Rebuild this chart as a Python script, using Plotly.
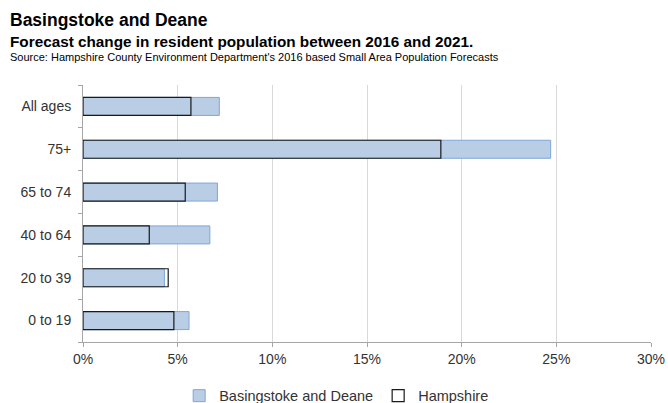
import plotly.graph_objects as go

# Age bands, top to bottom
age_groups = ["All ages", "75+", "65 to 74", "40 to 64", "20 to 39", "0 to 19"]

# Forecast % change in resident population, 2016 to 2021
basingstoke = [7.2, 24.7, 7.1, 6.7, 4.3, 5.6]
hampshire = [5.7, 18.9, 5.4, 3.5, 4.5, 4.8]

x_ticks = [0, 5, 10, 15, 20, 25, 30]
x_tick_text = [f"{v}%" for v in x_ticks]

FONT = "Liberation Sans, Arial, sans-serif"

fig = go.Figure()

fig.add_trace(go.Bar(
    name="Basingstoke and Deane",
    y=age_groups,
    x=basingstoke,
    orientation="h",
    width=0.42,
    marker=dict(color="#b9cde5", line=dict(color="#7ea6dc", width=1)),
))

fig.add_trace(go.Bar(
    name="Hampshire",
    y=age_groups,
    x=hampshire,
    orientation="h",
    width=0.42,
    marker=dict(color="rgba(0,0,0,0)", line=dict(color="#1a1a1a", width=1.2)),
))

fig.update_layout(
    barmode="overlay",
    width=668,
    height=403,
    margin=dict(l=82.5, r=17, t=85, b=61, autoexpand=False),
    paper_bgcolor="white",
    plot_bgcolor="white",
    font=dict(family=FONT, color="#333333", size=14),
    showlegend=True,
    legend=dict(
        orientation="h",
        xref="container",
        x=0.504,
        xanchor="center",
        yref="container",
        y=0.018,
        yanchor="middle",
        font=dict(size=14.5, color="#333333"),
        itemwidth=30,
        traceorder="normal",
    ),
    xaxis=dict(
        range=[0, 30],
        tickvals=x_ticks,
        ticktext=x_tick_text,
        showgrid=True,
        gridcolor="#d9d9d9",
        gridwidth=1,
        showline=True,
        linecolor="#a6a6a6",
        linewidth=1,
        ticks="outside",
        ticklen=4,
        tickcolor="#a6a6a6",
        zeroline=False,
        automargin=False,
        tickfont=dict(size=14, color="#333333"),
        fixedrange=True,
    ),
    yaxis=dict(
        categoryorder="array",
        categoryarray=age_groups[::-1],
        showline=True,
        linecolor="#a6a6a6",
        linewidth=1,
        ticks="outside",
        ticklen=4,
        tickcolor="#a6a6a6",
        tickson="boundaries",
        showgrid=False,
        automargin=False,
        tickfont=dict(size=14, color="#333333"),
        ticklabelstandoff=8,
        fixedrange=True,
    ),
)

x_left = (7 - 82.5) / 568.5
fig.add_annotation(
    text="<b>Basingstoke and Deane</b>", xref="paper", yref="paper",
    x=x_left, y=1.2529, xanchor="left", yanchor="middle", showarrow=False,
    font=dict(size=17.5, color="#000000", family=FONT),
)
fig.add_annotation(
    text="<b>Forecast change in resident population between 2016 and 2021.</b>",
    xref="paper", yref="paper",
    x=x_left, y=1.1712, xanchor="left", yanchor="middle", showarrow=False,
    font=dict(size=15.3, color="#000000", family=FONT),
)
fig.add_annotation(
    text="Source: Hampshire County Environment Department's 2016 based Small Area Population Forecasts",
    xref="paper", yref="paper",
    x=x_left, y=1.1089, xanchor="left", yanchor="middle", showarrow=False,
    font=dict(size=11, color="#000000", family=FONT),
)

fig.write_html("out.html")
